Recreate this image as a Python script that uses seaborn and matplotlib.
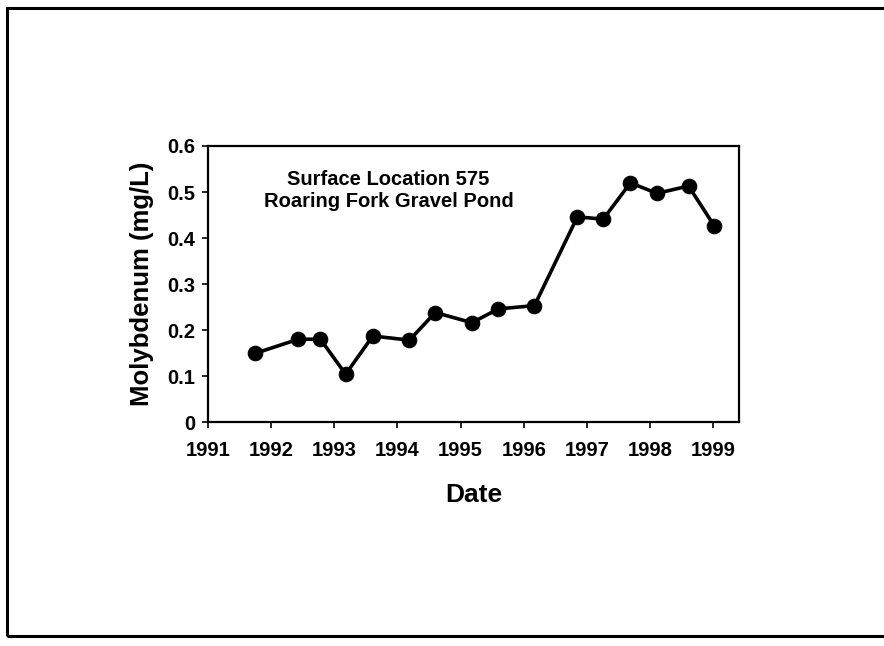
import matplotlib
matplotlib.use('agg')
import matplotlib.pyplot as plt
import matplotlib.patches as mpatches
import seaborn as sns
import pandas as pd

# sample dates (decimal years) and molybdenum values
dates = [1991.74, 1992.43, 1992.78, 1993.18, 1993.61, 1994.19, 1994.60, 1995.18,
         1995.60, 1996.17, 1996.85, 1997.26, 1997.69, 1998.11, 1998.61, 1999.02]
molybdenum = [0.149, 0.180, 0.180, 0.104, 0.187, 0.178, 0.238, 0.216,
              0.246, 0.253, 0.446, 0.441, 0.520, 0.497, 0.513, 0.426]
x_ticks = [1991, 1992, 1993, 1994, 1995, 1996, 1997, 1998, 1999]
y_ticks = [0, 0.1, 0.2, 0.3, 0.4, 0.5, 0.6]
y_tick_labels = ['0', '0.1', '0.2', '0.3', '0.4', '0.5', '0.6']
note = "Surface Location 575\nRoaring Fork Gravel Pond"

df = pd.DataFrame({'Date': dates, 'Mo': molybdenum})

sns.set_style('white')
plt.rcParams['font.family'] = ['Liberation Sans', 'DejaVu Sans']
plt.rcParams['font.weight'] = 'bold'
plt.rcParams['text.color'] = 'black'
plt.rcParams['axes.labelcolor'] = 'black'
plt.rcParams['xtick.color'] = 'black'
plt.rcParams['ytick.color'] = 'black'

fig = plt.figure(figsize=(8.84, 6.46), dpi=100)
ax = fig.add_axes([0.2353, 0.3467, 0.6007, 0.4273])

sns.lineplot(data=df, x='Date', y='Mo', ax=ax, color='black', linewidth=2.6,
             marker='o', markersize=10.5, markeredgecolor='black', markerfacecolor='black')

ax.set_xlim(1991, 1999.41)
ax.set_ylim(0, 0.6)
ax.set_xticks(x_ticks)
ax.set_xticklabels([str(t) for t in x_ticks], fontsize=14.5, fontweight='bold')
ax.set_yticks(y_ticks)
ax.set_yticklabels(y_tick_labels, fontsize=14.5, fontweight='bold')
ax.tick_params(axis='x', direction='out', length=4, width=1.2, pad=10)
ax.tick_params(axis='y', direction='out', length=4, width=1.2, pad=5)
ax.tick_params(bottom=True, left=True)

for s in ax.spines.values():
    s.set_color('black')
    s.set_linewidth(1.6)

ax.set_xlabel('Date', fontsize=19, fontweight='bold', labelpad=16)
ax.set_ylabel('Molybdenum (mg/L)', fontsize=18.5, fontweight='bold', labelpad=10)

ax.text(0.34, 0.84, note, transform=ax.transAxes, ha='center', va='center',
        fontsize=14.5, fontweight='bold', linespacing=1.2)

# outer frame of the scanned page
frame = mpatches.Rectangle((0.008, 0.015), 1.05, 0.973, transform=fig.transFigure,
                           fill=False, edgecolor='black', linewidth=2.2, clip_on=False)
fig.patches.append(frame)

fig.savefig('out.png', dpi=100)
plt.close(fig)
